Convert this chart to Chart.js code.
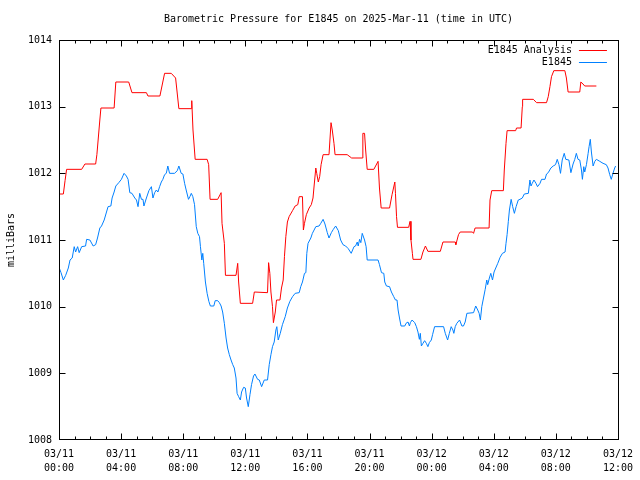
<!DOCTYPE html>
<html>
<head>
<meta charset="utf-8">
<script src="https://cdn.jsdelivr.net/npm/chart.js"></script>
<style>
  html, body { margin: 0; padding: 0; background: #fff; }
  canvas { display: block; }
</style>
</head>
<body>
<canvas id="pressureChart" width="640" height="480"></canvas>
<script>
// hours since 03/11 00:00 UTC, pressure in millibars
var analysisHours = [0, 0.28, 0.39, 0.49, 1.46, 1.67, 2.36, 2.44, 2.52, 2.63, 2.70, 3.55, 3.66, 4.49, 4.70, 5.63, 5.73, 6.50, 6.80, 7.23,
  7.51, 7.72, 8.52, 8.55, 8.63, 8.77, 9.54, 9.64, 9.73, 10.22, 10.44, 10.50, 10.65, 10.72, 11.40, 11.51, 11.57, 11.68, 12.47, 12.58,
  13.43, 13.50, 13.58, 13.65, 13.75, 13.81, 13.93, 14.01, 14.23, 14.33, 14.44, 14.52, 14.61, 14.71, 14.82, 15.04, 15.21, 15.38, 15.47, 15.68,
  15.74, 15.81, 15.93, 16.11, 16.25, 16.36, 16.43, 16.54, 16.60, 16.70, 16.79, 16.88, 17.01, 17.39, 17.52, 17.60, 17.71, 17.78, 18.56, 18.85,
  19.53, 19.57, 19.68, 19.75, 19.85, 20.28, 20.55, 20.64, 20.75, 21.29, 21.45, 21.63, 21.67, 21.74, 21.80, 22.52, 22.61, 22.67, 22.76, 22.80,
  23.31, 23.44, 23.60, 23.76, 24.56, 24.73, 25.52, 25.56, 25.73, 25.84, 26.63, 26.70, 26.80, 27.70, 27.76, 27.87, 28.62, 28.68, 28.79, 28.86,
  29.41, 29.47, 29.76, 29.84, 29.86, 30.55, 30.76, 31.40, 31.51, 31.62, 31.72, 31.87, 32.58, 32.68, 32.79, 33.54, 33.61, 33.75, 33.86, 34.61];
var analysisMb = [1011.69, 1011.69, 1011.89, 1012.06, 1012.06, 1012.14, 1012.14, 1012.28, 1012.5, 1012.8, 1012.98, 1012.98, 1013.37, 1013.37, 1013.21, 1013.21, 1013.16, 1013.16, 1013.5, 1013.5,
  1013.43, 1012.97, 1012.97, 1013.09, 1012.65, 1012.21, 1012.21, 1012.13, 1011.61, 1011.61, 1011.71, 1011.25, 1010.95, 1010.47, 1010.47, 1010.65, 1010.37, 1010.05, 1010.05, 1010.22,
  1010.21, 1010.66, 1010.5, 1010.22, 1010.0, 1009.76, 1009.92, 1010.1, 1010.1, 1010.28, 1010.4, 1010.75, 1011.05, 1011.27, 1011.35, 1011.44, 1011.51, 1011.53, 1011.65, 1011.65,
  1011.15, 1011.25, 1011.38, 1011.48, 1011.53, 1011.63, 1011.81, 1012.08, 1012.0, 1011.87, 1011.95, 1012.13, 1012.28, 1012.28, 1012.76, 1012.65, 1012.45, 1012.28, 1012.28, 1012.23,
  1012.23, 1012.6, 1012.6, 1012.35, 1012.06, 1012.06, 1012.18, 1011.78, 1011.48, 1011.48, 1011.68, 1011.87, 1011.7, 1011.35, 1011.19, 1011.19, 1011.28, 1011.0, 1010.8, 1010.71,
  1010.71, 1010.82, 1010.91, 1010.83, 1010.83, 1010.97, 1010.97, 1010.93, 1011.08, 1011.12, 1011.12, 1011.1, 1011.18, 1011.18, 1011.6, 1011.74, 1011.74, 1012.05, 1012.45, 1012.64,
  1012.64, 1012.68, 1012.68, 1013.0, 1013.11, 1013.11, 1013.06, 1013.06, 1013.15, 1013.3, 1013.45, 1013.54, 1013.54, 1013.43, 1013.22, 1013.22, 1013.37, 1013.34, 1013.31, 1013.31];

var stationHours = [0, 0.13, 0.28, 0.43, 0.60, 0.71, 0.85, 0.98, 1.07, 1.20, 1.30, 1.46, 1.71, 1.78, 1.99, 2.20, 2.36, 2.48, 2.63, 2.74,
  2.91, 3.06, 3.16, 3.34, 3.42, 3.55, 3.66, 3.85, 4.02, 4.19, 4.34, 4.45, 4.56, 4.70, 4.88, 4.99, 5.09, 5.20, 5.31, 5.41,
  5.47, 5.63, 5.79, 5.95, 6.05, 6.16, 6.27, 6.37, 6.48, 6.59, 6.69, 6.80, 6.91, 7.01, 7.12, 7.44, 7.62, 7.72, 7.87, 7.98,
  8.09, 8.19, 8.34, 8.43, 8.52, 8.62, 8.73, 8.84, 8.94, 9.05, 9.11, 9.20, 9.26, 9.32, 9.43, 9.54, 9.65, 9.75, 9.97, 10.06,
  10.22, 10.33, 10.44, 10.54, 10.65, 10.76, 10.86, 10.97, 11.08, 11.19, 11.29, 11.40, 11.47, 11.57, 11.68, 11.76, 11.89, 12.0, 12.08, 12.19,
  12.30, 12.40, 12.53, 12.62, 12.79, 12.90, 13.05, 13.22, 13.43, 13.54, 13.65, 13.75, 13.86, 13.97, 14.03, 14.12, 14.25, 14.39, 14.57, 14.71,
  14.87, 15.04, 15.21, 15.47, 15.57, 15.68, 15.81, 15.90, 15.96, 16.04, 16.22, 16.32, 16.43, 16.54, 16.75, 16.86, 17.01, 17.13, 17.28, 17.39,
  17.54, 17.67, 17.82, 17.99, 18.14, 18.29, 18.46, 18.63, 18.82, 19.0, 19.10, 19.21, 19.27, 19.36, 19.44, 19.53, 19.68, 19.78, 19.85, 20.55,
  20.64, 20.77, 20.92, 20.98, 21.09, 21.29, 21.41, 21.56, 21.67, 21.77, 21.84, 21.93, 22.03, 22.27, 22.35, 22.48, 22.57, 22.63, 22.74, 22.91,
  23.02, 23.12, 23.21, 23.27, 23.34, 23.44, 23.55, 23.66, 23.76, 23.85, 23.98, 24.06, 24.19, 24.77, 24.88, 25.03, 25.14, 25.26, 25.37, 25.43,
  25.52, 25.62, 25.80, 25.95, 26.05, 26.16, 26.27, 26.70, 26.84, 26.97, 27.06, 27.14, 27.23, 27.34, 27.45, 27.55, 27.61, 27.72, 27.81, 27.92,
  28.02, 28.13, 28.26, 28.41, 28.56, 28.73, 28.79, 28.86, 28.94, 29.01, 29.12, 29.22, 29.33, 29.44, 29.58, 29.69, 29.84, 29.97, 30.23, 30.33,
  30.40, 30.48, 30.59, 30.72, 30.82, 30.98, 31.08, 31.30, 31.40, 31.51, 31.68, 31.83, 31.98, 32.09, 32.20, 32.30, 32.41, 32.54, 32.64, 32.84,
  32.97, 33.11, 33.22, 33.32, 33.43, 33.54, 33.65, 33.71, 33.80, 33.86, 33.97, 34.08, 34.14, 34.22, 34.29, 34.40, 34.51, 34.61, 34.83, 35.04,
  35.25, 35.36, 35.47, 35.57, 35.68, 35.79, 35.85];
var stationMb = [1010.59, 1010.51, 1010.4, 1010.47, 1010.58, 1010.7, 1010.73, 1010.9, 1010.82, 1010.9, 1010.81, 1010.9, 1010.91, 1011.01, 1011.0, 1010.91, 1010.93, 1011.03, 1011.18, 1011.21,
  1011.3, 1011.42, 1011.5, 1011.51, 1011.63, 1011.72, 1011.81, 1011.86, 1011.91, 1012.0, 1011.96, 1011.91, 1011.71, 1011.7, 1011.63, 1011.6, 1011.5, 1011.7, 1011.61, 1011.61,
  1011.51, 1011.63, 1011.74, 1011.8, 1011.63, 1011.71, 1011.75, 1011.72, 1011.8, 1011.87, 1011.91, 1011.98, 1012.0, 1012.11, 1012.0, 1012.0, 1012.04, 1012.11, 1012.0, 1011.99,
  1011.85, 1011.75, 1011.61, 1011.65, 1011.7, 1011.65, 1011.53, 1011.2, 1011.1, 1011.05, 1010.9, 1010.7, 1010.8, 1010.65, 1010.37, 1010.2, 1010.08, 1010.01, 1010.01, 1010.09,
  1010.09, 1010.06, 1010.01, 1009.92, 1009.75, 1009.53, 1009.38, 1009.28, 1009.2, 1009.13, 1009.08, 1008.93, 1008.7, 1008.65, 1008.6, 1008.72, 1008.79, 1008.78, 1008.63, 1008.5,
  1008.68, 1008.83, 1008.96, 1008.99, 1008.91, 1008.9, 1008.8, 1008.9, 1008.9, 1009.13, 1009.28, 1009.4, 1009.47, 1009.65, 1009.7, 1009.5, 1009.6, 1009.73, 1009.85, 1009.98,
  1010.08, 1010.15, 1010.2, 1010.21, 1010.3, 1010.37, 1010.5, 1010.51, 1010.8, 1010.95, 1011.03, 1011.1, 1011.15, 1011.2, 1011.21, 1011.25, 1011.31, 1011.24, 1011.11, 1011.03,
  1011.11, 1011.16, 1011.21, 1011.14, 1011.0, 1010.93, 1010.91, 1010.87, 1010.8, 1010.9, 1010.91, 1010.97, 1010.91, 1011.01, 1010.96, 1011.1, 1011.0, 1010.9, 1010.7, 1010.7,
  1010.63, 1010.51, 1010.5, 1010.37, 1010.31, 1010.3, 1010.22, 1010.15, 1010.1, 1010.1, 1009.95, 1009.83, 1009.71, 1009.71, 1009.75, 1009.77, 1009.71, 1009.76, 1009.8, 1009.76,
  1009.7, 1009.62, 1009.51, 1009.6, 1009.41, 1009.45, 1009.49, 1009.45, 1009.4, 1009.46, 1009.5, 1009.58, 1009.7, 1009.7, 1009.6, 1009.5, 1009.6, 1009.7, 1009.65, 1009.6,
  1009.7, 1009.75, 1009.8, 1009.71, 1009.71, 1009.77, 1009.9, 1009.91, 1010.01, 1009.95, 1009.9, 1009.8, 1010.0, 1010.13, 1010.26, 1010.4, 1010.33, 1010.43, 1010.5, 1010.4,
  1010.52, 1010.58, 1010.65, 1010.74, 1010.8, 1010.82, 1010.95, 1011.08, 1011.28, 1011.45, 1011.61, 1011.5, 1011.4, 1011.5, 1011.6, 1011.61, 1011.63, 1011.69, 1011.7, 1011.9,
  1011.81, 1011.85, 1011.9, 1011.85, 1011.8, 1011.85, 1011.91, 1011.91, 1011.99, 1012.01, 1012.08, 1012.11, 1012.13, 1012.21, 1012.13, 1012.0, 1012.2, 1012.3, 1012.21, 1012.2,
  1012.01, 1012.14, 1012.21, 1012.3, 1012.21, 1012.2, 1012.05, 1011.91, 1012.1, 1012.02, 1012.13, 1012.3, 1012.4, 1012.51, 1012.32, 1012.11, 1012.18, 1012.21, 1012.18, 1012.15,
  1012.13, 1012.08, 1011.98, 1011.91, 1012.0, 1012.08, 1012.11];

// one label per 4-hour tick
var xTickLabels = [
  ['03/11', '00:00'], ['03/11', '04:00'], ['03/11', '08:00'], ['03/11', '12:00'], ['03/11', '16:00'],
  ['03/11', '20:00'], ['03/12', '00:00'], ['03/12', '04:00'], ['03/12', '08:00'], ['03/12', '12:00']
];

function toPoints(hours, values) {
  return hours.map(function (h, i) { return { x: h, y: values[i] }; });
}

// gnuplot-like frame: box border, inward ticks, legend inside top right
var framePlugin = {
  id: 'frame',
  afterDatasetsDraw: function (chart) {
    var ctx = chart.ctx, a = chart.chartArea;
    var xs = chart.scales.x, ys = chart.scales.y;
    var l = Math.round(a.left) + 0.5, r = Math.round(a.right) + 0.5;
    var t = Math.round(a.top) + 0.5, b = Math.round(a.bottom) - 0.5;
    ctx.save();
    ctx.strokeStyle = '#000';
    ctx.lineWidth = 1;
    ctx.strokeRect(l, t, r - l, b - t);
    ctx.beginPath();
    for (var h = 0; h <= 36; h++) {
      var px = Math.round(xs.getPixelForValue(h)) + 0.5;
      var len = h % 4 === 0 ? 6 : 3;
      ctx.moveTo(px, b); ctx.lineTo(px, b - len);
      ctx.moveTo(px, t); ctx.lineTo(px, t + len);
    }
    for (var v = 1008; v <= 1014; v++) {
      var py = Math.min(Math.round(ys.getPixelForValue(v)) + 0.5, b);
      ctx.moveTo(l, py); ctx.lineTo(l + 6, py);
      ctx.moveTo(r, py); ctx.lineTo(r - 6, py);
    }
    ctx.stroke();

    ctx.font = "10px 'DejaVu Sans Mono'";
    ctx.textAlign = 'right';
    ctx.textBaseline = 'middle';
    chart.data.datasets.forEach(function (ds, i) {
      var y = Math.round(a.top) + 10 + i * 12;
      ctx.fillStyle = '#000';
      ctx.fillText(ds.label, a.right - 46, y);
      ctx.strokeStyle = ds.borderColor;
      ctx.beginPath();
      ctx.moveTo(a.right - 39, y + 0.5);
      ctx.lineTo(a.right - 11, y + 0.5);
      ctx.stroke();
    });
    ctx.restore();
  }
};

Chart.defaults.font.family = "'DejaVu Sans Mono', monospace";
Chart.defaults.font.size = 10;
Chart.defaults.color = '#000';

var ctx = document.getElementById('pressureChart').getContext('2d');
var pressureChart = new Chart(ctx, {
  type: 'line',
  data: {
    datasets: [{
      label: 'E1845 Analysis',
      data: toPoints(analysisHours, analysisMb),
      borderColor: '#ff0000',
      borderWidth: 1,
      pointRadius: 0,
      tension: 0
    }, {
      label: 'E1845',
      data: toPoints(stationHours, stationMb),
      borderColor: '#0080ff',
      borderWidth: 1,
      pointRadius: 0,
      tension: 0
    }]
  },
  options: {
    responsive: false,
    animation: false,
    events: [],
    layout: { padding: { left: 0, right: 20, top: 0, bottom: 0 } },
    plugins: {
      legend: { display: false },
      tooltip: { enabled: false },
      title: {
        display: true,
        fullSize: false,
        text: 'Barometric Pressure for E1845 on 2025-Mar-11 (time in UTC)',
        font: { size: 10, weight: 'normal' },
        padding: { top: 13, bottom: 15 }
      }
    },
    scales: {
      x: {
        type: 'linear',
        min: 0,
        max: 36,
        grid: { display: false, drawTicks: false },
        border: { display: false },
        ticks: {
          stepSize: 4,
          autoSkip: false,
          maxRotation: 0,
          padding: 7,
          font: { size: 10, lineHeight: 1.4 },
          callback: function (value) { return xTickLabels[value / 4]; }
        },
        afterFit: function (scale) { scale.height = 40; }
      },
      y: {
        min: 1008,
        max: 1014,
        grid: { display: false, drawTicks: false },
        border: { display: false },
        title: {
          display: true,
          text: 'milliBars',
          font: { size: 10 },
          padding: { top: 5, bottom: 0 }
        },
        ticks: {
          stepSize: 1,
          padding: 7,
          callback: function (value) { return String(value); }
        },
        afterFit: function (scale) { scale.width = 59; }
      }
    }
  },
  plugins: [framePlugin]
});
</script>
</body>
</html>
